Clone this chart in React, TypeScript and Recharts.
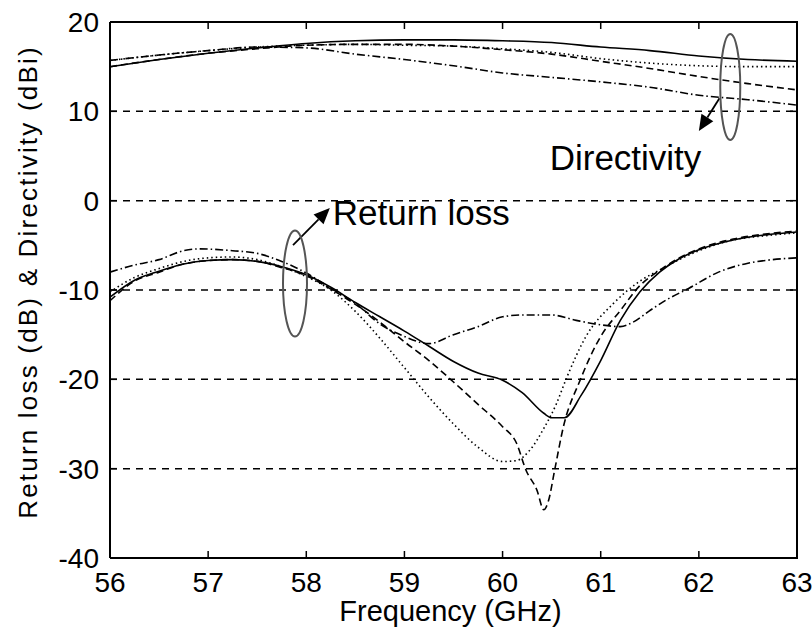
import { LineChart, Line, XAxis, YAxis, CartesianGrid, ReferenceDot, ReferenceLine } from 'recharts';

const FONT = 'Arial, "Liberation Sans", Helvetica, sans-serif';

const xTicks = [56, 57, 58, 59, 60, 61, 62, 63];
const yTicks = [-40, -30, -20, -10, 0, 10, 20];

// directivity (dBi), shared frequency grid
const dirFreq = [56, 56.5, 57, 57.5, 58, 58.5, 59, 59.5, 60, 60.5, 61, 61.5, 62, 62.5, 63];
const dirSolid = [15.0, 15.8, 16.5, 17.1, 17.6, 17.9, 18.0, 18.0, 17.9, 17.7, 17.2, 16.8, 16.2, 15.8, 15.6];
const dirDashed = [15.0, 15.8, 16.5, 17.0, 17.4, 17.5, 17.5, 17.3, 16.9, 16.4, 15.6, 14.8, 13.9, 13.1, 12.4];
const dirDotted = [15.7, 16.3, 16.8, 17.2, 17.4, 17.5, 17.4, 17.3, 17.0, 16.6, 15.9, 15.4, 15.1, 15.0, 15.0];
const dirDashDot = [15.7, 16.3, 16.8, 17.2, 17.1, 16.4, 15.8, 15.1, 14.3, 13.8, 13.3, 12.7, 11.8, 11.3, 10.7];

// return loss (dB)
const rlSolidFreq = [56, 56.25, 56.5, 56.75, 57, 57.25, 57.5, 57.75, 58, 58.25, 58.5, 58.75, 59, 59.25, 59.5, 59.75, 60, 60.2, 60.42, 60.5, 60.63, 60.8, 61, 61.2, 61.4, 61.6, 61.8, 62, 62.35, 62.7, 63];
const rlSolid = [-10.8, -8.9, -7.9, -7.1, -6.7, -6.6, -6.8, -7.4, -8.3, -9.7, -11.4, -13.0, -14.6, -16.3, -18.0, -19.3, -20.1, -21.5, -23.8, -24.3, -24.3, -21.8, -17.9, -13.4, -10.2, -8.0, -6.5, -5.5, -4.4, -3.8, -3.5];

const rlDashedFreq = [56, 56.25, 56.5, 56.75, 57, 57.25, 57.5, 57.75, 58, 58.25, 58.5, 58.75, 59, 59.25, 59.5, 59.75, 60, 60.14, 60.24, 60.35, 60.42, 60.47, 60.53, 60.62, 60.79, 61, 61.2, 61.4, 61.6, 61.8, 62, 62.35, 62.7, 63];
const rlDashed = [-11.2, -9.0, -8.0, -7.1, -6.7, -6.6, -6.8, -7.5, -8.4, -9.9, -11.6, -13.6, -15.8, -17.9, -20.3, -22.8, -25.3, -27.1, -30.2, -32.4, -34.6, -33.5, -30.2, -25.3, -20.1, -15.2, -12.3, -9.5, -7.8, -6.4, -5.4, -4.3, -3.7, -3.4];

const rlDottedFreq = [56, 56.25, 56.5, 56.75, 57, 57.25, 57.5, 57.75, 58, 58.25, 58.5, 58.75, 59, 59.25, 59.5, 59.75, 60, 60.14, 60.28, 60.42, 60.55, 60.65, 60.85, 61.13, 61.4, 61.63, 61.8, 62, 62.35, 62.7, 63];
const rlDotted = [-10.2, -8.6, -7.6, -6.8, -6.4, -6.3, -6.6, -7.4, -8.5, -10.0, -12.4, -15.4, -18.7, -22.0, -25.0, -27.6, -29.2, -29.1, -27.9, -25.5, -22.7, -19.9, -15.2, -11.5, -9.0, -7.6, -6.6, -5.6, -4.4, -3.9, -3.6];

const rlDashDotFreq = [56, 56.25, 56.5, 56.75, 56.9, 57.25, 57.5, 57.75, 58, 58.25, 58.5, 58.75, 59, 59.25, 59.5, 59.75, 60, 60.2, 60.5, 60.75, 61, 61.2, 61.33, 61.5, 61.67, 61.9, 62.2, 62.5, 62.75, 63];
const rlDashDot = [-8.0, -7.2, -6.6, -5.6, -5.4, -5.6, -5.9, -6.8, -8.1, -9.8, -11.5, -13.8, -15.2, -16.0, -15.0, -14.1, -13.0, -12.8, -12.8, -13.4, -13.9, -14.1, -13.6, -12.3, -11.1, -9.8, -8.0, -7.0, -6.6, -6.4];

const pts = (f: number[], v: number[]) => f.map((x, i) => ({ f: x, v: v[i] }));

const DASH = { solid: undefined, dashed: '7 4', dotted: '1.5 3', dashdot: '8 3 1.5 3' };

const series = [
  { id: 'd1', data: pts(dirFreq, dirSolid), dash: DASH.solid },
  { id: 'd2', data: pts(dirFreq, dirDashed), dash: DASH.dashed },
  { id: 'd3', data: pts(dirFreq, dirDotted), dash: DASH.dotted },
  { id: 'd4', data: pts(dirFreq, dirDashDot), dash: DASH.dashdot },
  { id: 'r1', data: pts(rlSolidFreq, rlSolid), dash: DASH.solid },
  { id: 'r2', data: pts(rlDashedFreq, rlDashed), dash: DASH.dashed },
  { id: 'r3', data: pts(rlDottedFreq, rlDotted), dash: DASH.dotted },
  { id: 'r4', data: pts(rlDashDotFreq, rlDashDot), dash: DASH.dashdot },
];

// plot box, in px, from the chart margins and axis sizes below
const BOX = { left: 110, top: 22, right: 797, bottom: 558 };

function BottomTick({ x, y, payload }: any) {
  return (
    <g>
      <line x1={x} y1={y} x2={x} y2={y - 7} stroke="#000" strokeWidth={1.5} />
      <text x={x} y={y + 34} textAnchor="middle" fontSize={28} fontFamily={FONT} fill="#000">{payload.value}</text>
    </g>
  );
}

function LeftTick({ x, y, payload }: any) {
  return (
    <g>
      <line x1={x} y1={y} x2={x + 7} y2={y} stroke="#000" strokeWidth={1.5} />
      <text x={x - 11} y={y + 10} textAnchor="end" fontSize={28} fontFamily={FONT} fill="#000">{payload.value}</text>
    </g>
  );
}

// horizontal grid: dashed inside, solid on the box edges, tick mark at the right edge
function GridH(p: any) {
  const edge = Math.abs(p.y1 - p.y) < 1.5 || Math.abs(p.y1 - (p.y + p.height)) < 1.5;
  const right = Math.max(p.x1, p.x2);
  return (
    <g>
      <line
        x1={p.x1} y1={p.y1} x2={p.x2} y2={p.y2}
        stroke="#000" strokeWidth={edge ? 2 : 1.5}
        strokeDasharray={edge ? undefined : '7 6'}
      />
      <line x1={right} y1={p.y1} x2={right - 7} y2={p.y1} stroke="#000" strokeWidth={1.5} />
    </g>
  );
}

// vertical grid: full line only on the box edges, inward tick marks on the top edge
function GridV(p: any) {
  const edge = Math.abs(p.x1 - p.x) < 1.5 || Math.abs(p.x1 - (p.x + p.width)) < 1.5;
  const top = Math.min(p.y1, p.y2);
  if (edge) return <line x1={p.x1} y1={p.y1} x2={p.x2} y2={p.y2} stroke="#000" strokeWidth={2} />;
  return <line x1={p.x1} y1={top} x2={p.x1} y2={top + 7} stroke="#000" strokeWidth={1.5} />;
}

function YLabel({ viewBox }: any) {
  const cx = viewBox.x + 37;
  const cy = viewBox.y + viewBox.height / 2 - 8;
  return (
    <text x={cx} y={cy} transform={`rotate(-90 ${cx} ${cy})`} textAnchor="middle" fontSize={26} letterSpacing={2.2} fontFamily={FONT} fill="#000">
      Return loss (dB) &amp; Directivity (dBi)
    </text>
  );
}

function XLabel({ viewBox }: any) {
  return (
    <text x={viewBox.x + viewBox.width / 2 - 3} y={viewBox.y + 63} textAnchor="middle" fontSize={29} fontFamily={FONT} fill="#000">
      Frequency (GHz)
    </text>
  );
}

const Ellipse = (rx: number, ry: number) => ({ cx, cy }: any) => (
  <ellipse cx={cx} cy={cy} rx={rx} ry={ry} fill="none" stroke="#555" strokeWidth={2} />
);

const Note = (text: string) => ({ cx, cy }: any) => (
  <text x={cx} y={cy} fontSize={35} fontFamily={FONT} fill="#000">{text}</text>
);

function Arrow({ x1, y1, x2, y2 }: any) {
  const dx = x2 - x1;
  const dy = y2 - y1;
  const len = Math.sqrt(dx * dx + dy * dy);
  const ux = dx / len;
  const uy = dy / len;
  const hl = 16;
  const hw = 7;
  const bx = x2 - ux * hl;
  const by = y2 - uy * hl;
  return (
    <g>
      <line x1={x1} y1={y1} x2={bx} y2={by} stroke="#000" strokeWidth={1.8} />
      <polygon
        points={`${x2},${y2} ${bx - uy * hw},${by + ux * hw} ${bx + uy * hw},${by - ux * hw}`}
        fill="#000"
      />
    </g>
  );
}

export default function App() {
  return (
    <div style={{ position: 'absolute', left: 0, top: 0, width: 812, height: 632, background: '#fff' }}>
      <LineChart width={812} height={632} margin={{ top: BOX.top, right: 812 - BOX.right, bottom: 0, left: 0 }}>
        <CartesianGrid horizontal={<GridH />} vertical={<GridV />} />
        <XAxis
          dataKey="f"
          type="number"
          domain={[56, 63]}
          ticks={xTicks}
          allowDuplicatedCategory={false}
          height={632 - BOX.bottom}
          tickSize={0}
          tickMargin={0}
          tick={<BottomTick />}
          axisLine={{ stroke: '#000', strokeWidth: 2 }}
          interval={0}
          label={<XLabel />}
        />
        <YAxis
          type="number"
          domain={[-40, 20]}
          ticks={yTicks}
          width={BOX.left}
          tickSize={0}
          tickMargin={0}
          tick={<LeftTick />}
          axisLine={{ stroke: '#000', strokeWidth: 2 }}
          interval={0}
          label={<YLabel />}
        />
        {series.map((s) => (
          <Line
            key={s.id}
            data={s.data}
            dataKey="v"
            type="monotone"
            stroke="#000"
            strokeWidth={1.6}
            strokeDasharray={s.dash}
            dot={false}
            activeDot={false}
            isAnimationActive={false}
          />
        ))}
        <ReferenceDot x={62.32} y={12.72} r={1} shape={Ellipse(10, 53)} />
        <ReferenceDot x={57.885} y={-9.28} r={1} shape={Ellipse(12, 53)} />
        <ReferenceLine segment={[{ x: 62.21, y: 11.46 }, { x: 62.0, y: 7.79 }]} shape={Arrow} />
        <ReferenceLine segment={[{ x: 57.865, y: -4.97 }, { x: 58.24, y: -0.83 }]} shape={Arrow} />
        <ReferenceDot x={60.48} y={3.4} r={1} shape={Note('Directivity')} />
        <ReferenceDot x={58.27} y={-2.73} r={1} shape={Note('Return loss')} />
      </LineChart>
      {/* top and right edges of the axes box */}
      <div
        style={{
          position: 'absolute',
          left: BOX.left,
          top: BOX.top - 1,
          width: BOX.right - BOX.left - 1,
          height: BOX.bottom - BOX.top,
          borderTop: '2px solid #000',
          borderRight: '2px solid #000',
          pointerEvents: 'none',
        }}
      />
    </div>
  );
}
